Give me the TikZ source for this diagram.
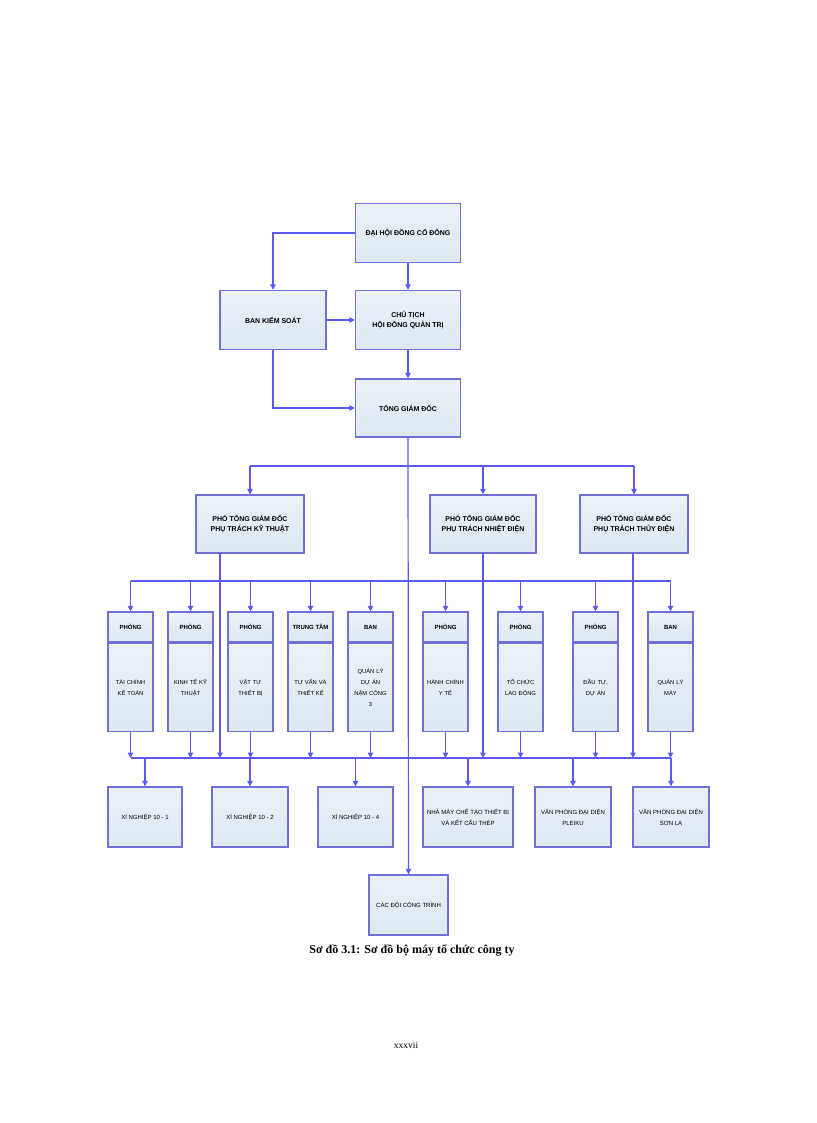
\documentclass[tikz,border=0pt]{standalone}
\usepackage{fontspec}
\setmainfont{Liberation Sans}
\newfontfamily\capfont{Liberation Serif}
\usetikzlibrary{arrows.meta}
\definecolor{ln}{HTML}{5A5AF0}
\definecolor{bd}{HTML}{7070D8}
\definecolor{fl}{HTML}{DDE8F2}
\begin{document}
\begin{tikzpicture}[x=1pt,y=-1pt,
  box/.style={draw=bd,line width=1.4pt,top color=fl!60!white,bottom color=fl,align=center,inner sep=1pt,font=\fontsize{7}{10}\selectfont\bfseries},
  sbox/.style={draw=bd,line width=1.4pt,top color=fl!60!white,bottom color=fl,align=center,inner sep=1pt,font=\fontsize{6}{11}\selectfont},
  con/.style={draw=ln,line width=1.2pt},
  arr/.style={con,-{Triangle[length=5.5pt,width=5.5pt]}}]
\useasboundingbox (0,0) rectangle (816,1123);
% top
\node[box,minimum width=105pt,minimum height=59pt] (dh) at (408,233) {ĐẠI HỘI ĐỒNG CỔ ĐÔNG};
\node[box,minimum width=106pt,minimum height=59pt] (bks) at (273,320) {BAN KIỂM SOÁT};
\node[box,minimum width=105pt,minimum height=59pt] (ct) at (408,320) {CHỦ TỊCH\\HỘI ĐỒNG QUẢN TRỊ};
\node[box,minimum width=105pt,minimum height=58pt] (tgd) at (408,408) {TỔNG GIÁM ĐỐC};
\node[box,minimum width=108pt,minimum height=58pt] (p1) at (250,524) {PHÓ TỔNG GIÁM ĐỐC\\PHỤ TRÁCH KỸ THUẬT};
\node[box,minimum width=106pt,minimum height=58pt] (p2) at (483,524) {PHÓ TỔNG GIÁM ĐỐC\\PHỤ TRÁCH NHIỆT ĐIỆN};
\node[box,minimum width=108pt,minimum height=58pt] (p3) at (634,524) {PHÓ TỔNG GIÁM ĐỐC\\PHỤ TRÁCH THỦY ĐIỆN};
\draw[arr] (dh.west) -| (bks.north);
\draw[arr] (dh) -- (ct);
\draw[arr] (bks) -- (ct);
\draw[arr] (ct) -- (tgd);
\draw[arr] (bks.south) |- (tgd.west);
\draw[con] (250,466) -- (634,466);
\draw[arr] (250,466) -- (p1.north);
\draw[arr] (483,466) -- (p2.north);
\draw[arr] (634,466) -- (p3.north);
% departments
\foreach \n/\x/\h/\t in {d1/130.5/PHÒNG/{TÀI CHÍNH\\KẾ TOÁN}, d2/190.5/PHÒNG/{KINH TẾ KỸ\\THUẬT}, d3/250.5/PHÒNG/{VẬT TƯ\\THIẾT BỊ}, d4/310.5/TRUNG TÂM/{TƯ VẤN VÀ\\THIẾT KẾ}, d5/370.5/BAN/{QUẢN LÝ\\DỰ ÁN\\NẬM CÔNG\\3}, d6/445.5/PHÒNG/{HÀNH CHÍNH\\Y TẾ}, d7/520.5/PHÒNG/{TỔ CHỨC\\LAO ĐỘNG}, d8/595.5/PHÒNG/{ĐẦU TƯ,\\DỰ ÁN}, d9/670.5/BAN/{QUẢN LÝ\\MÁY}}{
  \node[box,minimum width=45pt,minimum height=30pt,font=\fontsize{6}{7}\selectfont\bfseries] (\n h) at (\x,627) {\h};
  \node[sbox,minimum width=45pt,minimum height=88pt,anchor=north,text width=43pt,font=\fontsize{5.8}{11}\selectfont] (\n) at (\n h.south) {\t};
  \draw[arr] (\x,581) -- (\n h.north);
  \draw[arr] (\n.south) -- (\x,758);
}
\draw[con] (130.5,581) -- (670.5,581);
\draw[con] (130.5,758) -- (670.5,758);
\draw[arr] (220,553) -- (220,758);
\draw[arr] (483,553) -- (483,758);
\draw[arr] (633,553) -- (633,758);
% bottom
\node[sbox,minimum width=74pt,minimum height=60pt] (x1) at (145,817) {XÍ NGHIỆP 10 - 1};
\node[sbox,minimum width=76pt,minimum height=60pt] (x2) at (250,817) {XÍ NGHIỆP 10 - 2};
\node[sbox,minimum width=75pt,minimum height=60pt] (x4) at (355.5,817) {XÍ NGHIỆP 10 - 4};
\node[sbox,minimum width=90pt,minimum height=60pt] (nm) at (468,817) {NHÀ MÁY CHẾ TẠO THIẾT BỊ\\VÀ KẾT CẤU THÉP};
\node[sbox,minimum width=76pt,minimum height=60pt] (vp1) at (573,817) {VĂN PHÒNG ĐẠI DIỆN\\PLEIKU};
\node[sbox,minimum width=76pt,minimum height=60pt] (vp2) at (671,817) {VĂN PHÒNG ĐẠI DIỆN\\SƠN LA};
\node[sbox,minimum width=79pt,minimum height=60pt] (cd) at (408.5,905) {CÁC ĐỘI CÔNG TRÌNH};
\foreach \n/\x in {x1/145,x2/250,x4/355.5,nm/468,vp1/573,vp2/671}{
  \draw[arr] (\x,758) -- (\n.north);
}
\draw[arr] (tgd.south) -- (cd.north);
\node[font=\capfont\fontsize{12}{14}\selectfont\bfseries] (cap) at (412,950) {Sơ đồ 3.1: Sơ đồ bộ máy tổ chức công ty};
\node[font=\capfont\fontsize{9.5}{11}\selectfont] (pg) at (406,1045) {xxxvii};
\end{tikzpicture}
\end{document}
